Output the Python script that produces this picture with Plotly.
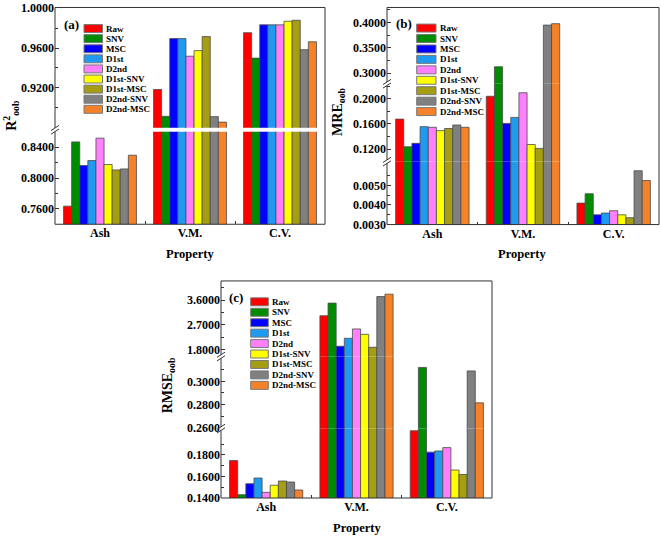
import plotly.graph_objects as go

# ---------------- data ----------------
categories = ["Ash", "V.M.", "C.V."]
methods = ["Raw", "SNV", "MSC", "D1st", "D2nd", "D1st-SNV", "D1st-MSC", "D2nd-SNV", "D2nd-MSC"]
colors = ["#FF0000", "#008C00", "#0000FF", "#1E9BF0", "#FF80FF", "#FFFF00", "#A59D12", "#808080", "#F58228"]

# (a) R2_oob, per category, in method order
r2_ash = [0.7635, 0.8469, 0.8162, 0.8227, 0.8517, 0.8175, 0.8105, 0.8118, 0.8296]
r2_vm = [0.9184, 0.8915, 0.9695, 0.9695, 0.9518, 0.9574, 0.9715, 0.8912, 0.8857]
r2_cv = [0.9754, 0.9499, 0.9833, 0.9833, 0.9833, 0.9869, 0.9879, 0.9584, 0.9663]

# (b) MRE_oob
mre_ash = [0.1675, 0.1236, 0.1290, 0.1555, 0.1545, 0.1492, 0.1526, 0.1582, 0.1545]
mre_vm = [0.2038, 0.3125, 0.1607, 0.1702, 0.2094, 0.1272, 0.1210, 0.3947, 0.3975]
mre_cv = [0.00409, 0.00457, 0.00349, 0.00358, 0.00370, 0.00349, 0.00334, 0.00575, 0.00525]

# (c) RMSE_oob
rmse_ash = [0.1747, 0.1430, 0.1532, 0.1585, 0.1452, 0.1518, 0.1557, 0.1548, 0.1474]
rmse_vm = [3.035, 3.492, 1.930, 2.218, 2.556, 2.362, 1.894, 3.730, 3.816]
rmse_cv = [0.2025, 0.3120, 0.1826, 0.1837, 0.1868, 0.1659, 0.1618, 0.3090, 0.2815]

# tick labels per axis segment (bottom -> top)
r2_ticks = [[0.76, 0.80, 0.84], [0.92, 0.96, 1.00]]
mre_ticks = [[0.003, 0.004, 0.005], [0.12, 0.16, 0.20], [0.30, 0.35, 0.40]]
rmse_ticks = [[0.14, 0.16, 0.18], [0.26, 0.28, 0.30], [1.8, 2.7, 3.6]]

# ---------------- layout geometry ----------------
W, H = 661, 537
FONT = "Liberation Serif"
# vertical calibration between page pixels and the photographed picture
CAL_OFF, CAL_SCALE = 3.51, 0.9813


def px(x):
    return x / W


def py(y):
    return 1 - ((y - CAL_OFF) / CAL_SCALE) / H


panels = [
    dict(label="(a)", title="R<sup>2</sup><sub>oob</sub>",
         data=[r2_ash, r2_vm, r2_cv], ticks=r2_ticks,
         left=55, right=325, top=5, bottom=223,
         segs=[(223, 130, 0.74, 0.86), (126, 5, 0.88, 1.0007)],
         breaks=[128],
         lab=(71, 22), ttl=(11, 114), prop=(190, 253),
         leg=(84, 102.5, 26.2, 10.15)),
    dict(label="(b)", title="MRE<sub>oob</sub>",
         data=[mre_ash, mre_vm, mre_cv], ticks=mre_ticks,
         left=387, right=659, top=5, bottom=223.3,
         segs=[(223.3, 160, 0.00299, 0.00622), (160, 81.7, 0.1, 0.2237), (81.7, 5, 0.279, 0.4294)],
         breaks=[160, 81.7],
         lab=(404, 21), ttl=(339, 110), prop=(522, 253),
         leg=(416.7, 436, 25.7, 10.5)),
    dict(label="(c)", title="RMSE<sub>oob</sub>",
         data=[rmse_ash, rmse_vm, rmse_cv], ticks=rmse_ticks,
         left=221, right=492, top=280, bottom=498.3,
         segs=[(498.3, 428.5, 0.1399, 0.2045), (428.5, 356, 0.2593, 0.3214), (356, 280, 1.559, 4.295)],
         breaks=[428.5, 356],
         lab=(236, 297), ttl=(168, 385), prop=(357, 528),
         leg=(250.7, 268.3, 301, 10.5)),
]

fig = go.Figure()
layout = {}
shapes = []
annotations = []
xpos = list(range(len(categories)))


def note(text, x, y, size, angle=0, xanchor="center"):
    annotations.append(dict(text=text, x=px(x), y=py(y), xref="paper", yref="paper",
                            xanchor=xanchor, yanchor="middle", showarrow=False,
                            textangle=angle, borderpad=0,
                            font=dict(family=FONT, size=size, color="black", weight="bold")))


yidx = 0
for pi, p in enumerate(panels):
    xname = "x" if pi == 0 else f"x{pi + 1}"
    xkey = "xaxis" if pi == 0 else f"xaxis{pi + 1}"
    first_y = None
    for si, (pb, pt, lo, hi) in enumerate(p["segs"]):
        yidx += 1
        yname = "y" if yidx == 1 else f"y{yidx}"
        ykey = "yaxis" if yidx == 1 else f"yaxis{yidx}"
        if first_y is None:
            first_y = yname
        tv = p["ticks"][si]
        step = tv[1] - tv[0]
        minor_vals = [t - step / 2 for t in tv] + [tv[-1] + step / 2]
        minor_vals = [m for m in minor_vals if lo < m < hi]
        layout[ykey] = dict(
            domain=[py(pb), py(pt)], range=[lo, hi], anchor=xname,
            tickmode="array", tickvals=tv, ticktext=[f"{t:.4f}" for t in tv],
            ticks="inside", ticklen=4, tickwidth=1, tickcolor="#333",
            ticklabeloverflow="allow",
            minor=dict(tickmode="array", tickvals=minor_vals, ticks="inside",
                       ticklen=2.5, tickcolor="#333", tickwidth=1),
            showgrid=False, zeroline=False, showline=False,
            tickfont=dict(family=FONT, size=12, color="black", weight="bold"),
        )
        for mi, m in enumerate(methods):
            fig.add_trace(go.Bar(
                x=xpos, y=[p["data"][ci][mi] for ci in range(len(categories))],
                name=m, xaxis=xname, yaxis=yname, showlegend=False,
                marker=dict(color=colors[mi], line=dict(color="#4a4a4a", width=0.8)),
            ))
    layout[xkey] = dict(
        domain=[px(p["left"]), px(p["right"])], anchor=first_y,
        range=[-0.5, len(categories) - 0.5],
        tickmode="array", tickvals=xpos, ticktext=categories, ticks="",
        minor=dict(tickmode="array", tickvals=[i + 0.5 for i in xpos[:-1]],
                   ticks="inside", ticklen=3, tickcolor="#333"),
        showgrid=False, zeroline=False, showline=False,
        tickfont=dict(family=FONT, size=12, color="black", weight="bold"),
    )
    # frame
    shapes.append(dict(type="rect", xref="paper", yref="paper",
                       x0=px(p["left"]), x1=px(p["right"]), y0=py(p["bottom"]), y1=py(p["top"]),
                       line=dict(color="#333", width=1), fillcolor="rgba(0,0,0,0)", layer="above"))
    # break marks on left axis
    ax = p["left"]
    for b in p["breaks"]:
        shapes.append(dict(type="line", xref="paper", yref="paper",
                           x0=px(ax), x1=px(ax), y0=py(b + 1.8), y1=py(b - 1.8),
                           line=dict(color="white", width=3), layer="above"))
        for off in (-1.8, 1.8):
            shapes.append(dict(type="line", xref="paper", yref="paper",
                               x0=px(ax - 4), x1=px(ax + 4), y0=py(b + off + 2.6), y1=py(b + off - 2.6),
                               line=dict(color="#333", width=1), layer="above"))
    note(p["label"], p["lab"][0], p["lab"][1], 13)
    note(p["title"], p["ttl"][0], p["ttl"][1], 14, angle=-90)
    note("Property", p["prop"][0], p["prop"][1], 12.5)
    # legend
    sx0, sx1, y0, dy = p["leg"]
    for mi, m in enumerate(methods):
        yc = y0 + mi * dy
        shapes.append(dict(type="rect", xref="paper", yref="paper",
                           x0=px(sx0), x1=px(sx1), y0=py(yc + 4), y1=py(yc - 4),
                           fillcolor=colors[mi], line=dict(color="#777", width=1), layer="above"))
        note(m, sx1 + 2.5, yc, 9, xanchor="left")

fig.update_layout(
    width=W, height=H, margin=dict(l=0, r=0, t=0, b=0),
    paper_bgcolor="white", plot_bgcolor="white",
    barmode="group", bargap=0.19, bargroupgap=0,
    showlegend=False, shapes=shapes, annotations=annotations,
    **layout,
)

POST = ("var d=document.getElementById('{plot_id}');"
        "d.style.position='fixed';d.style.left='0px';d.style.top='0px';"
        "document.documentElement.style.margin='0px';document.body.style.margin='0px';"
        "document.documentElement.style.overflow='hidden';document.body.style.overflow='hidden';")

fig.write_html("out.html", config={"displayModeBar": False}, post_script=POST)
